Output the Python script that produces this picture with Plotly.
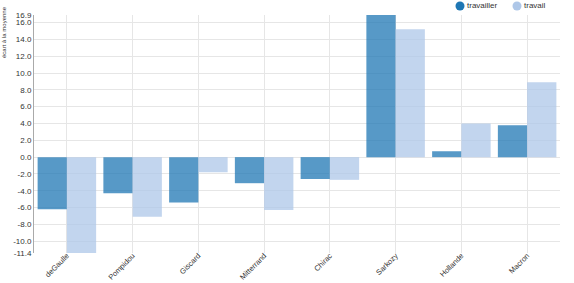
import plotly.graph_objects as go

presidents = ["deGaulle", "Pompidou", "Giscard", "Mitterrand", "Chirac", "Sarkozy", "Hollande", "Macron"]
travailler = [-6.2, -4.3, -5.4, -3.1, -2.6, 16.9, 0.7, 3.8]
travail = [-11.4, -7.1, -1.8, -6.3, -2.7, 15.2, 4.0, 8.9]
series_names = ["travailler", "travail"]
y_ticks = [-11.4, -10, -8, -6, -4, -2, 0, 2, 4, 6, 8, 10, 12, 14, 16, 16.9]

dark_fill = "rgba(31,119,180,0.75)"
light_fill = "rgba(174,199,232,0.75)"
legend_colors = ["#1f77b4", "#aec7e8"]

W, H = 574, 283
ML, MR, MT, MB = 34, 14, 15, 30
PW, PH = W - ML - MR, H - MT - MB

def px_x(p):
    return (p - ML) / PW

def px_y(p):
    return 1 - (p - MT) / PH

fig = go.Figure()
fig.add_trace(go.Bar(x=presidents, y=travailler, name=series_names[0], marker_color=dark_fill,
                     marker_line_width=0, showlegend=False))
fig.add_trace(go.Bar(x=presidents, y=travail, name=series_names[1], marker_color=light_fill,
                     marker_line_width=0, showlegend=False))

# custom legend (circle + label), as in the reference
shapes, annotations = [], []
legend_pos = [460, 517]
for nm, col, cx in zip(series_names, legend_colors, legend_pos):
    shapes.append(dict(type="circle", xref="paper", yref="paper",
                       x0=px_x(cx - 4.5), x1=px_x(cx + 4.5), y0=px_y(6 + 4.5), y1=px_y(6 - 4.5),
                       fillcolor=col, line=dict(width=0)))
    annotations.append(dict(text=nm, xref="paper", yref="paper", x=px_x(cx + 5), y=px_y(6),
                            xanchor="left", yanchor="middle", showarrow=False,
                            font=dict(size=8, color="#333")))

annotations.append(dict(text="écart à la moyenne", xref="paper", yref="paper",
                        x=px_x(4), y=px_y(32), textangle=-90, showarrow=False,
                        font=dict(size=6, color="#333"), xanchor="center", yanchor="middle"))

font = "Liberation Sans, Arial, sans-serif"
fig.update_layout(
    width=W, height=H,
    margin=dict(l=ML, r=MR, t=MT, b=MB, autoexpand=False),
    paper_bgcolor="white", plot_bgcolor="white",
    barmode="group", bargap=0.11, bargroupgap=0,
    font=dict(family=font, size=8, color="#333"),
    showlegend=False,
    xaxis=dict(showgrid=True, gridcolor="#e6e6e6", gridwidth=1, tickangle=-45,
               ticks="", showline=False, tickfont=dict(size=7.5, color="#333"),
               range=[-0.5, 7.5], automargin=False, ticklabelstandoff=-4),
    yaxis=dict(range=[-11.4, 16.9], tickvals=y_ticks,
               ticktext=[f"{v:.1f}" for v in y_ticks],
               showgrid=True, gridcolor="#e6e6e6", zeroline=False,
               showline=True, linecolor="#aaa", linewidth=1, automargin=False,
               ticks="", tickfont=dict(size=8, color="#333")),
    shapes=shapes,
    annotations=annotations,
)

fig.write_html("out.html")
